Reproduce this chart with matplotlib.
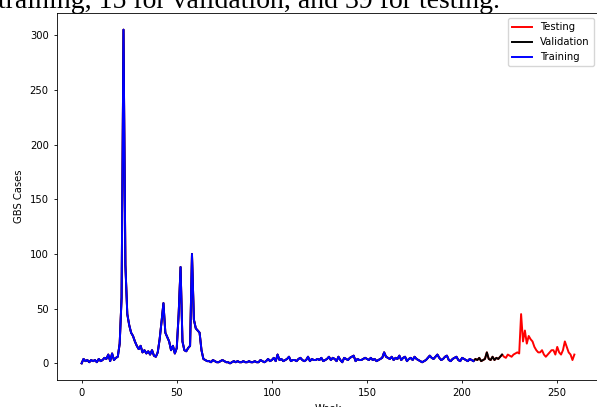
import matplotlib
matplotlib.use("Agg")
import matplotlib.pyplot as plt
import numpy as np

# weekly GBS case counts
weeks_0_19 = [0, 4, 2, 3, 1, 3, 2, 3, 1, 4, 2, 3, 5, 4, 8, 2, 9, 3, 5, 6]
weeks_20_64 = [18, 60, 305, 90, 45, 35, 28, 25, 20, 16, 13, 16, 10, 12, 9, 11, 8, 12, 7, 6,
               10, 22, 38, 55, 28, 24, 20, 12, 16, 9, 14, 45, 88, 20, 12, 11, 14, 16, 100, 40,
               32, 30, 28, 12, 4]
weeks_65_99 = [3, 2, 2, 1, 3, 2, 1, 1, 2, 3, 2, 1, 1, 0, 1, 2, 1, 2, 1, 1, 2, 1, 1, 2, 1,
               1, 2, 1, 1, 3, 2, 1, 2, 4, 2]
weeks_100_149 = [3, 5, 2, 8, 3, 4, 2, 3, 4, 6, 2, 3, 3, 2, 4, 5, 3, 2, 3, 6, 2, 4, 3, 3, 4,
                 3, 5, 2, 3, 4, 6, 3, 5, 4, 2, 6, 3, 1, 5, 4, 3, 5, 6, 7, 2, 4, 3, 3, 4, 5]
weeks_150_205 = [4, 3, 5, 3, 4, 2, 3, 4, 5, 10, 6, 5, 4, 6, 3, 5, 4, 7, 3, 5, 6, 2, 4, 5, 3,
                 6, 4, 3, 2, 1, 2, 3, 5, 7, 5, 4, 6, 8, 5, 3, 4, 6, 7, 3, 2, 4, 5, 6, 3, 2,
                 5, 4, 3, 2, 4, 3]
weeks_valid = [2, 4, 3, 5, 2, 3, 4, 10, 4, 3, 6, 3, 5, 4, 6]
weeks_test = [8, 6, 5, 8, 7, 6, 8, 9, 10, 9, 45, 20, 30, 18, 25, 22, 20, 15, 12, 10,
              10, 12, 8, 6, 8, 10, 12, 12, 8, 15, 10, 8, 12, 20, 15, 10, 8, 3, 8]

cases = np.array(weeks_0_19 + weeks_20_64 + weeks_65_99 + weeks_100_149
                 + weeks_150_205 + weeks_valid + weeks_test)
n_train = len(weeks_0_19 + weeks_20_64 + weeks_65_99 + weeks_100_149 + weeks_150_205)
n_valid = len(weeks_valid)
week = np.arange(len(cases))

fig = plt.figure(figsize=(5.97, 4.07), dpi=100)
ax = fig.add_axes([57 / 597, 27 / 407, 542 / 597, 367 / 407])

ax.plot(week, cases, color="red", lw=1.4, label="Testing")
ax.plot(week[:n_train + n_valid + 1], cases[:n_train + n_valid + 1], color="black", lw=1.4, label="Validation")
ax.plot(week[:n_train + 1], cases[:n_train + 1], color="blue", lw=1.4, label="Training")

ax.set_xlabel("Week", fontsize=7.2)
ax.set_ylabel("GBS Cases", fontsize=7.2)
ax.tick_params(labelsize=7.2, length=2.5, width=0.6)
for s in ax.spines.values():
    s.set_linewidth(0.6)
ax.legend(fontsize=7.2, loc="upper right")

# caption text from the page above the chart, cut off by the screenshot
fig.text(-0.003, 1 - 7.5 / 407, "training, 15 for validation, and 39 for testing.",
         fontsize=20, family="Liberation Serif", va="baseline", ha="left")

fig.savefig("out.png", dpi=100)
